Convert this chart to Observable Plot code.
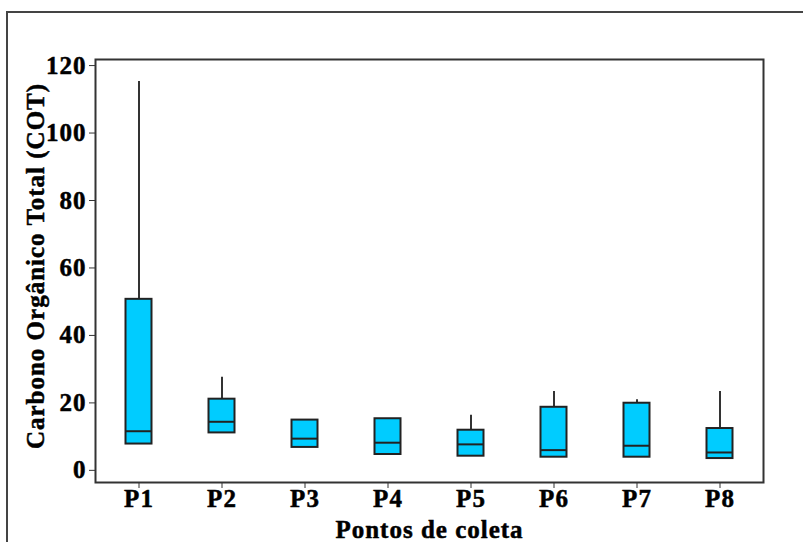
<!DOCTYPE html>
<html>
<head>
<meta charset="utf-8">
<script src="https://cdn.jsdelivr.net/npm/d3@7"></script>
<script src="https://cdn.jsdelivr.net/npm/@observablehq/plot@0.6"></script>
<style>
  html, body { margin: 0; padding: 0; background: #fff; overflow: hidden; }
  #wrap { position: relative; width: 803px; height: 542px; }
  #border { position: absolute; left: 6px; top: 11px; width: 900px; height: 700px;
            border: 2px solid #444; pointer-events: none; }
  #wrap svg text { stroke: #000; stroke-width: 0.5px; }
</style>
</head>
<body>
<div id="wrap"><div id="border"></div></div>
<script>
// Sampling points and box-plot summaries of total organic carbon
const points  = ["P1", "P2", "P3", "P4", "P5", "P6", "P7", "P8"];
const maxima  = [115.3, 27.6, 14.9, 15.3, 16.3, 23.4, 20.9, 23.4];
const q3s     = [50.7, 21.1, 14.9, 15.3, 11.9, 18.7, 19.9, 12.4];
const medians = [11.6, 14.4, 9.4, 8.2, 7.7, 6.0, 7.3, 5.3];
const q1s     = [7.8, 11.1, 6.8, 4.7, 4.2, 3.9, 3.9, 3.5];
const minima  = [7.8, 11.1, 6.8, 4.7, 4.2, 3.9, 3.9, 3.5];
const yTicks  = [0, 20, 40, 60, 80, 100, 120];

const yTitle = "Carbono Orgânico Total (COT)";
const xTitle = "Pontos de coleta";

const rows = points.map((p, i) => ({
  point: p, min: minima[i], q1: q1s[i], median: medians[i], q3: q3s[i], max: maxima[i]
}));

const boxInset = 28.5;
const font = "'Liberation Serif', 'Times New Roman', serif";

const chart = Plot.plot({
  width: 803,
  height: 542,
  marginLeft: 95,
  marginRight: 40,
  marginTop: 59,
  marginBottom: 60,
  style: { fontFamily: font, fontSize: "25px", fontWeight: "bold", color: "#000", background: "transparent", letterSpacing: "1px" },
  x: { domain: points, padding: 0, label: null },
  y: { domain: [-3.6, 121.8], label: null },
  marks: [
    Plot.axisY({ ticks: yTicks, tickSize: 6, tickPadding: 3, label: null, stroke: "#333" }),
    Plot.axisX({ tickSize: 6, tickPadding: 1, label: null, stroke: "#333" }),
    // upper whiskers
    Plot.ruleX(rows.filter(d => d.max > d.q3), { x: "point", y1: "q3", y2: "max", stroke: "#333", strokeWidth: 2 }),
    // lower whiskers
    Plot.ruleX(rows.filter(d => d.min < d.q1), { x: "point", y1: "min", y2: "q1", stroke: "#333", strokeWidth: 2 }),
    // boxes
    Plot.barY(rows, { x: "point", y1: "q1", y2: "q3", fill: "#00CCFF", stroke: "#222", strokeWidth: 2, insetLeft: boxInset, insetRight: boxInset }),
    // medians
    Plot.tickY(rows, { x: "point", y: "median", stroke: "#222", strokeWidth: 2, insetLeft: boxInset, insetRight: boxInset }),
    Plot.frame({ stroke: "#333", strokeWidth: 2 }),
    Plot.text([yTitle], { frameAnchor: "left", textAnchor: "middle", lineAnchor: "middle", rotate: -90, dx: -60, dy: -5, fill: "#000" }),
    Plot.text([xTitle], { frameAnchor: "bottom", textAnchor: "middle", lineAnchor: "middle", dy: 47, fill: "#000" })
  ]
});

document.getElementById("wrap").prepend(chart);
</script>
</body>
</html>
